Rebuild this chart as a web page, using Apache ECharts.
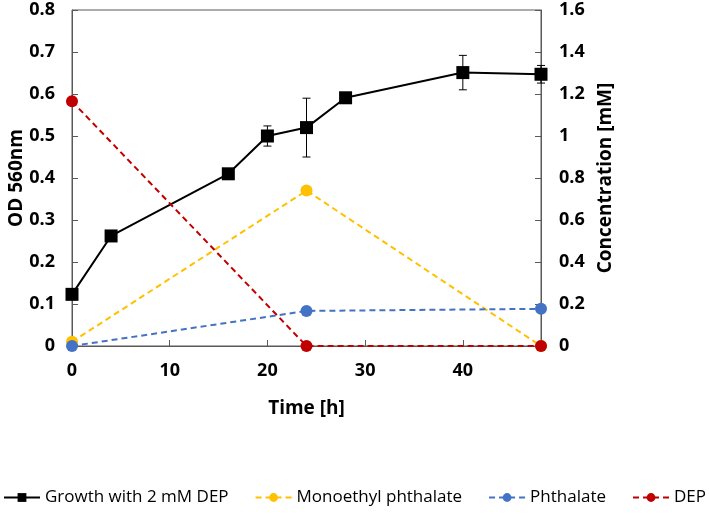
<!DOCTYPE html>
<html>
<head>
<meta charset="utf-8">
<script src="https://cdn.jsdelivr.net/npm/echarts@6/dist/echarts.min.js"></script>
<style>
  html, body { margin: 0; padding: 0; background: #fff; }
  #chart { width: 709px; height: 515px; }
</style>
</head>
<body>
<div id="chart"></div>
<script>
// time points (h)
const growthTime = [0, 4, 16, 20, 24, 28, 40, 48];
const growthOD = [0.123, 0.262, 0.41, 0.50, 0.52, 0.591, 0.651, 0.647];
const growthErr = [0.004, 0.004, 0.005, 0.024, 0.07, 0.005, 0.041, 0.021];

const concTime = [0, 24, 48];
const monoethyl = [0.02, 0.74, 0];
const phthalate = [0, 0.167, 0.177];
const dep = [1.165, 0, 0];

const FONT = '"Open Sans", "Noto Sans", sans-serif';
const labelStyle = { color: '#000', fontFamily: FONT, fontWeight: 'bold', fontSize: 18 };
const nameStyle = { color: '#000', fontFamily: FONT, fontWeight: 'bold', fontSize: 19 };

const pair = (xs, ys) => xs.map((x, i) => [x, ys[i]]);

const chart = echarts.init(document.getElementById('chart'));

chart.setOption({
  backgroundColor: '#fff',
  animation: false,
  grid: {
    left: 72, right: 168, top: 10, bottom: 169,
    outerBoundsMode: 'none', containLabel: false,
    show: true, borderColor: '#595959', borderWidth: 1
  },
  legend: {
    top: 489,
    left: 'center',
    padding: 0,
    itemWidth: 36,
    itemHeight: 11,
    itemGap: 26,
    textStyle: { color: '#000', fontFamily: FONT, fontSize: 17, fontWeight: 'normal' },
    data: ['Growth with 2 mM DEP', 'Monoethyl phthalate', 'Phthalate', 'DEP']
  },
  xAxis: {
    type: 'value',
    min: 0, max: 48, interval: 10,
    name: 'Time [h]',
    nameLocation: 'middle',
    nameGap: 53,
    nameTextStyle: nameStyle,
    axisLine: { lineStyle: { color: '#595959' } },
    axisTick: { inside: true, length: 6, lineStyle: { color: '#595959' } },
    axisLabel: { ...labelStyle, margin: 16, formatter: v => (v % 10 === 0 ? String(v) : '') },
    splitLine: { show: false }
  },
  yAxis: [
    {
      type: 'value',
      min: 0, max: 0.8, interval: 0.1,
      name: 'OD 560nm',
      nameLocation: 'middle',
      nameGap: 46,
      nameMoveOverlap: false,
      nameTextStyle: nameStyle,
      axisLine: { show: true, lineStyle: { color: '#595959' } },
      axisTick: { show: true, inside: true, length: 6, lineStyle: { color: '#595959' } },
      axisLabel: { ...labelStyle, margin: 17 },
      splitLine: { show: false }
    },
    {
      type: 'value',
      position: 'right',
      min: 0, max: 1.6, interval: 0.2,
      name: 'Concentration [mM]',
      nameLocation: 'middle',
      nameGap: 54,
      nameTextStyle: nameStyle,
      axisLine: { show: true, lineStyle: { color: '#595959' } },
      axisTick: { show: true, inside: true, length: 6, lineStyle: { color: '#595959' } },
      axisLabel: { ...labelStyle, margin: 18 },
      splitLine: { show: false }
    }
  ],
  series: [
    {
      name: 'error',
      type: 'custom',
      yAxisIndex: 0,
      silent: true,
      z: 1,
      data: growthTime.map((t, i) => [t, growthOD[i] - growthErr[i], growthOD[i] + growthErr[i]]),
      renderItem: (params, api) => {
        const lo = api.coord([api.value(0), api.value(1)]);
        const hi = api.coord([api.value(0), api.value(2)]);
        const w = 4;
        const style = { stroke: '#000', lineWidth: 1 };
        return {
          type: 'group',
          children: [
            { type: 'line', shape: { x1: lo[0], y1: lo[1], x2: hi[0], y2: hi[1] }, style },
            { type: 'line', shape: { x1: lo[0] - w, y1: lo[1], x2: lo[0] + w, y2: lo[1] }, style },
            { type: 'line', shape: { x1: hi[0] - w, y1: hi[1], x2: hi[0] + w, y2: hi[1] }, style }
          ]
        };
      }
    },
    {
      name: 'Growth with 2 mM DEP',
      type: 'line',
      yAxisIndex: 0,
      clip: false,
      z: 3,
      data: pair(growthTime, growthOD),
      symbol: 'rect',
      symbolSize: 13,
      color: '#000',
      lineStyle: { color: '#000', width: 2 },
      itemStyle: { color: '#000' }
    },
    {
      name: 'Monoethyl phthalate',
      type: 'line',
      yAxisIndex: 1,
      clip: false,
      data: pair(concTime, monoethyl),
      symbol: 'circle',
      symbolSize: 12,
      color: '#FFC000',
      lineStyle: { color: '#FFC000', width: 2, type: [6, 4] },
      itemStyle: { color: '#FFC000' }
    },
    {
      name: 'Phthalate',
      type: 'line',
      yAxisIndex: 1,
      clip: false,
      data: pair(concTime, phthalate),
      symbol: 'circle',
      symbolSize: 12,
      color: '#4472C4',
      lineStyle: { color: '#4472C4', width: 2, type: [6, 4] },
      itemStyle: { color: '#4472C4' }
    },
    {
      name: 'DEP',
      type: 'line',
      yAxisIndex: 1,
      clip: false,
      data: pair(concTime, dep),
      symbol: 'circle',
      symbolSize: 12,
      color: '#C00000',
      lineStyle: { color: '#C00000', width: 2, type: [6, 4] },
      itemStyle: { color: '#C00000' }
    }
  ]
});
</script>
</body>
</html>
